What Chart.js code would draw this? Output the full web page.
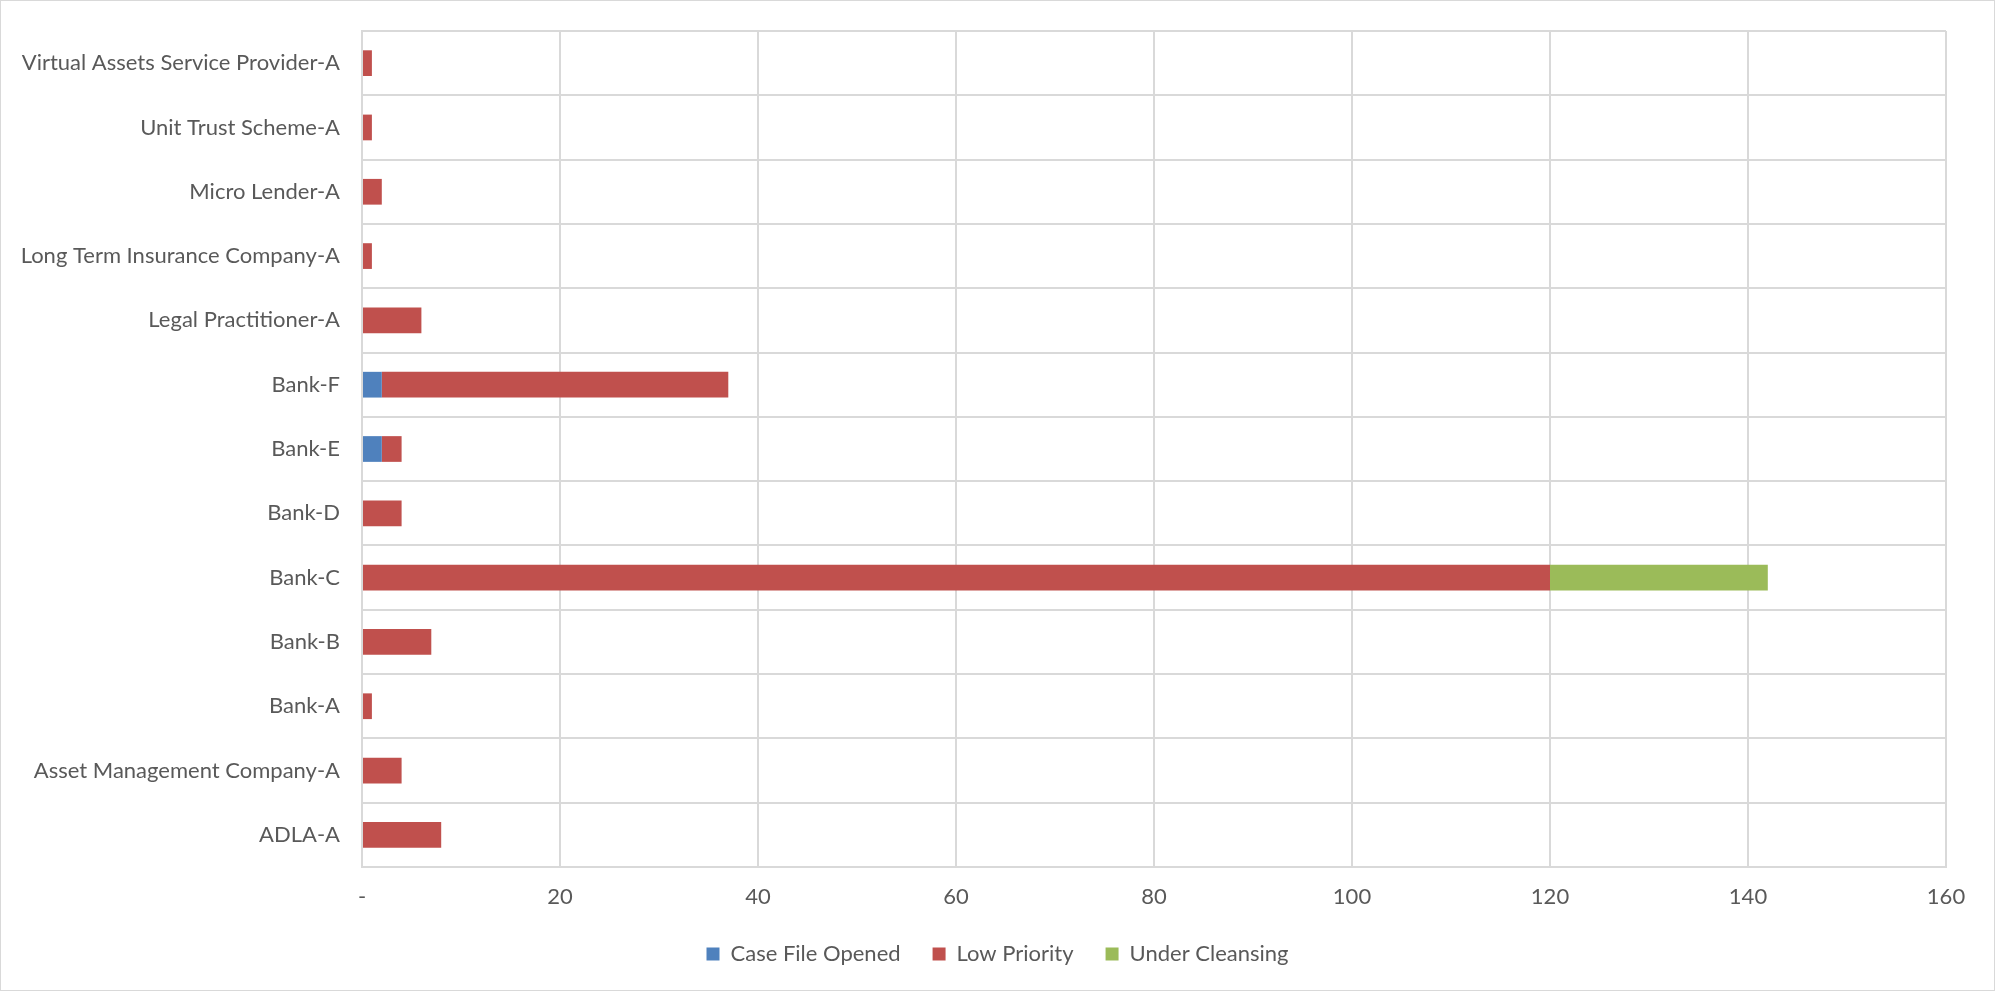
<!DOCTYPE html>
<html>
<head>
<meta charset="utf-8">
<script src="https://cdn.jsdelivr.net/npm/chart.js@4"></script>
<style>
  html, body { margin: 0; padding: 0; background: #fff; }
  #wrap { width: 1995px; height: 991px; box-sizing: border-box; border: 1px solid #d9d9d9; }
</style>
</head>
<body>
<div id="wrap"><canvas id="bar-chart-stacked"></canvas></div>
<script>
// categories, bottom to top as in the picture
const categories = [
  "ADLA-A", "Asset Management Company-A", "Bank-A", "Bank-B", "Bank-C", "Bank-D",
  "Bank-E", "Bank-F", "Legal Practitioner-A", "Long Term Insurance Company-A",
  "Micro Lender-A", "Unit Trust Scheme-A", "Virtual Assets Service Provider-A"
];
const caseFileOpened = [0, 0, 0, 0, 0, 0, 2, 2, 0, 0, 0, 0, 0];
const lowPriority    = [8, 4, 1, 7, 120, 4, 2, 35, 6, 1, 2, 1, 1];
const underCleansing = [0, 0, 0, 0, 22, 0, 0, 0, 0, 0, 0, 0, 0];
const xTicks = [0, 20, 40, 60, 80, 100, 120, 140, 160];

const fontFamily = "Lato, 'Liberation Sans', sans-serif";
const textColor = "#595959";
const gridColor = "#d9d9d9";

Chart.defaults.font.family = fontFamily;
Chart.defaults.font.size = 22;
Chart.defaults.color = textColor;

new Chart(document.getElementById("bar-chart-stacked"), {
  type: 'bar',
  data: {
    labels: categories.slice().reverse(),
    datasets: [
      { label: "Case File Opened", data: caseFileOpened.slice().reverse(), backgroundColor: "#4F81BD" },
      { label: "Low Priority",     data: lowPriority.slice().reverse(),    backgroundColor: "#C0504D" },
      { label: "Under Cleansing",  data: underCleansing.slice().reverse(), backgroundColor: "#9BBB59" }
    ]
  },
  options: {
    indexAxis: 'y',
    responsive: true,
    maintainAspectRatio: false,
    animation: false,
    datasets: { bar: { categoryPercentage: 1, barPercentage: 0.4 } },
    layout: { padding: { top: 30, right: 0, left: 0, bottom: 15 } },
    scales: {
      x: {
        stacked: true,
        min: 0,
        max: 160,
        afterBuildTicks: (scale) => { scale.ticks = xTicks.map(v => ({ value: v })); },
        ticks: {
          padding: 17,
          callback: (v) => v === 0 ? '-' : v
        },
        grid: { color: gridColor, lineWidth: 2, drawTicks: false },
        border: { color: gridColor, width: 2 },
        afterFit: (scale) => { scale.height = 44; }
      },
      y: {
        stacked: true,
        ticks: { padding: 22 },
        grid: { color: gridColor, lineWidth: 2, drawTicks: false },
        border: { color: gridColor, width: 2 },
        afterFit: (scale) => { scale.width = 361; scale.paddingTop = 0; scale.paddingBottom = 0; }
      },
      // empty strip on the right so the legend stays centred on the whole picture
      yPad: {
        type: 'category',
        axis: 'y',
        position: 'right',
        ticks: { display: false },
        grid: { display: false },
        border: { display: false },
        afterFit: (scale) => { scale.width = 48; scale.paddingTop = 0; scale.paddingBottom = 0; }
      }
    },
    plugins: {
      legend: {
        position: 'bottom',
        labels: { boxWidth: 13, boxHeight: 13, padding: 32 }
      },
      tooltip: { enabled: false }
    }
  }
});
</script>
</body>
</html>
